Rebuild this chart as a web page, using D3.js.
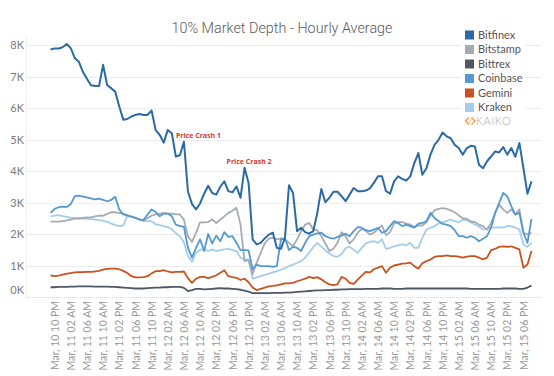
<!DOCTYPE html>
<html>
<head>
<meta charset="utf-8">
<script src="https://cdn.jsdelivr.net/npm/d3@7"></script>
<style>
  body { margin: 0; background: #fff; }
  svg { display: block; font-family: Lato, "Open Sans", sans-serif; }
</style>
</head>
<body>
<div id="chart"></div>
<script>
// dimensions
const w = 554;
const h = 376;

// data (values in thousands, hourly from Mar 10 11 PM to Mar 15 10 PM)
const exchanges = ["Bitfinex", "Bitstamp", "Bittrex", "Coinbase", "Gemini", "Kraken"];
const colors = ["#2c6aa6", "#a5abb5", "#4f5764", "#5499cf", "#c9521e", "#a4ccec"];

const bitfinex = [7.86,7.89,7.89,7.93,8.03,7.90,7.58,7.47,7.15,6.93,
  6.72,6.70,6.70,7.37,6.73,6.63,6.52,6.05,5.63,5.65,
  5.73,5.78,5.81,5.78,5.78,5.92,5.30,5.15,4.90,5.30,
  5.20,4.46,4.50,4.93,3.35,2.95,2.78,2.97,3.28,3.53,
  3.30,3.25,3.50,3.67,3.36,3.32,3.51,3.15,4.10,3.62,
  1.83,1.67,1.72,1.86,1.98,2.04,1.56,1.53,1.88,3.55,
  3.30,2.09,2.20,2.06,2.01,2.09,2.67,3.43,3.01,3.15,
  3.34,3.34,3.20,3.04,3.25,3.46,3.36,3.36,3.38,3.45,
  3.62,3.83,3.83,3.36,3.28,3.67,3.83,3.75,3.70,3.83,
  4.25,4.57,3.88,4.09,4.52,4.83,4.99,5.22,5.10,5.04,
  4.83,4.73,4.52,4.73,4.80,4.78,4.20,4.09,4.31,4.46,
  4.62,4.59,4.76,4.52,4.73,4.45,4.89,4.09,3.28,3.67];

const bitstamp = [2.39,2.39,2.39,2.41,2.43,2.46,2.49,2.49,2.51,2.53,
  2.53,2.56,2.58,2.58,2.64,2.69,2.69,2.67,2.64,2.60,
  2.56,2.51,2.46,2.43,2.51,2.58,2.62,2.65,2.66,2.65,
  2.65,2.62,2.62,2.45,1.93,1.75,2.04,2.37,2.37,2.38,
  2.46,2.35,2.46,2.56,2.67,2.74,2.83,2.30,1.14,1.17,
  0.72,1.09,1.40,1.70,1.85,1.88,1.83,1.86,1.83,1.72,
  1.61,1.83,2.09,2.30,2.35,2.14,2.12,1.93,1.70,1.46,
  1.53,1.72,2.06,1.93,1.70,1.83,2.04,2.16,2.10,1.98,
  2.04,2.16,2.27,1.96,2.06,2.33,2.38,2.38,2.33,2.30,
  2.22,2.27,2.27,2.38,2.59,2.75,2.80,2.82,2.80,2.75,
  2.69,2.59,2.50,2.48,2.40,2.38,2.30,2.25,2.14,2.35,
  2.67,2.93,2.78,2.67,2.78,2.62,2.78,2.04,1.98,2.04];

const bittrex = [0.31,0.31,0.32,0.32,0.32,0.33,0.33,0.34,0.34,0.34,
  0.34,0.33,0.33,0.33,0.33,0.32,0.32,0.31,0.30,0.29,
  0.28,0.27,0.27,0.27,0.28,0.29,0.30,0.30,0.31,0.31,
  0.32,0.32,0.32,0.29,0.19,0.22,0.26,0.26,0.24,0.25,
  0.26,0.27,0.28,0.27,0.27,0.26,0.25,0.23,0.20,0.17,
  0.12,0.12,0.12,0.12,0.12,0.13,0.13,0.13,0.14,0.14,
  0.15,0.16,0.17,0.18,0.19,0.20,0.21,0.21,0.22,0.22,
  0.23,0.23,0.24,0.24,0.25,0.25,0.25,0.25,0.26,0.26,
  0.26,0.26,0.27,0.27,0.27,0.26,0.26,0.26,0.27,0.27,
  0.27,0.27,0.27,0.27,0.27,0.27,0.27,0.27,0.27,0.27,
  0.27,0.27,0.27,0.27,0.26,0.26,0.26,0.26,0.26,0.26,
  0.26,0.26,0.27,0.27,0.27,0.27,0.26,0.26,0.30,0.36];

const coinbase = [2.67,2.80,2.85,2.87,2.86,2.95,3.20,3.22,3.19,3.16,
  3.13,3.10,3.12,3.08,3.04,3.08,3.18,2.78,2.62,2.58,
  2.54,2.51,2.46,2.44,2.62,2.78,2.70,2.56,2.65,2.65,
  2.56,2.30,2.25,2.23,1.56,1.25,1.56,1.83,1.46,2.00,
  1.70,1.95,1.77,2.06,1.91,1.93,1.72,1.49,1.49,1.48,
  0.88,1.03,0.98,0.98,0.98,0.96,0.98,1.83,1.86,1.49,
  1.59,1.56,1.46,1.72,1.93,1.98,2.02,2.04,1.93,1.88,
  1.85,1.91,1.95,2.01,1.93,2.09,2.22,2.20,2.12,2.09,
  2.14,2.20,2.04,2.09,2.25,2.41,2.35,2.25,2.30,2.25,
  2.20,2.33,2.35,2.41,2.67,2.51,2.41,2.32,2.30,2.25,
  2.12,1.93,1.93,1.88,1.93,1.88,1.77,1.85,1.93,2.20,
  2.67,2.99,3.30,3.20,2.88,2.62,2.67,2.04,1.72,2.48];

const gemini = [0.69,0.66,0.68,0.71,0.74,0.76,0.78,0.79,0.79,0.80,
  0.80,0.81,0.83,0.87,0.89,0.90,0.90,0.88,0.83,0.76,
  0.66,0.62,0.62,0.63,0.66,0.75,0.82,0.82,0.85,0.81,
  0.78,0.80,0.80,0.81,0.60,0.45,0.58,0.64,0.64,0.60,
  0.64,0.69,0.77,0.85,0.66,0.63,0.61,0.54,0.58,0.47,
  0.30,0.22,0.26,0.30,0.34,0.35,0.37,0.40,0.43,0.43,
  0.45,0.50,0.54,0.58,0.64,0.60,0.63,0.56,0.47,0.40,
  0.38,0.40,0.64,0.58,0.45,0.42,0.55,0.68,0.80,0.78,
  0.88,0.93,0.98,0.77,0.93,1.00,1.03,1.06,1.07,1.09,
  0.98,0.90,1.07,1.14,1.19,1.27,1.30,1.30,1.32,1.30,
  1.30,1.28,1.25,1.28,1.30,1.30,1.25,1.19,1.25,1.49,
  1.53,1.59,1.61,1.59,1.61,1.56,1.51,0.93,1.03,1.46];

const kraken = [2.56,2.58,2.60,2.57,2.54,2.52,2.51,2.50,2.49,2.48,
  2.47,2.46,2.44,2.42,2.39,2.33,2.28,2.25,2.27,2.58,
  2.56,2.51,2.46,2.42,2.41,2.41,2.31,2.28,2.25,2.22,
  2.15,2.03,1.93,1.74,1.30,1.12,1.40,1.50,1.51,1.46,
  1.51,1.46,1.49,1.51,1.53,1.49,1.46,1.25,1.19,1.19,
  0.58,0.62,0.66,0.70,0.74,0.78,0.82,0.87,0.92,0.98,
  1.03,1.08,1.14,1.25,1.42,1.58,1.72,1.60,1.48,1.38,
  1.30,1.28,1.36,1.55,1.60,1.50,1.40,1.56,1.70,1.75,
  1.77,1.72,1.83,1.53,1.56,1.61,1.64,1.67,1.64,1.72,
  1.56,1.56,1.88,2.14,2.20,2.25,2.33,2.37,2.41,2.46,
  2.41,2.37,2.46,2.43,2.37,2.30,2.23,2.14,2.16,2.20,
  2.20,2.22,2.20,2.25,2.25,2.20,2.14,1.67,1.59,1.72];

const seriesValues = [bitfinex, bitstamp, bittrex, coinbase, gemini, kraken];

const yTicks = [0, 1, 2, 3, 4, 5, 6, 7, 8];
const xTickLabels = ["Mar, 10 10 PM",
  "Mar, 11 02 AM", "Mar, 11 06 AM", "Mar, 11 10 AM", "Mar, 11 02 PM", "Mar, 11 06 PM", "Mar, 11 10 PM",
  "Mar, 12 02 AM", "Mar, 12 06 AM", "Mar, 12 10 AM", "Mar, 12 02 PM", "Mar, 12 06 PM", "Mar, 12 10 PM",
  "Mar, 13 02 AM", "Mar, 13 06 AM", "Mar, 13 10 AM", "Mar, 13 02 PM", "Mar, 13 06 PM", "Mar, 13 10 PM",
  "Mar, 14 02 AM", "Mar, 14 06 AM", "Mar, 14 10 AM", "Mar, 14 02 PM", "Mar, 14 06 PM", "Mar, 14 10 PM",
  "Mar, 15 02 AM", "Mar, 15 06 AM", "Mar, 15 10 AM", "Mar, 15 02 PM", "Mar, 15 06 PM", "Mar, 15 10 PM"];

const annotationTexts = ["Price Crash 1", "Price Crash 2"];
const annotationHours = [33, 48];
const annotationValues = [4.93, 4.10];

// time
const startTime = Date.UTC(2018, 2, 10, 22);
const endTime = Date.UTC(2018, 2, 15, 22);
const hours = d3.utcHour.range(new Date(Date.UTC(2018, 2, 10, 23)), new Date(Date.UTC(2018, 2, 15, 23)));
const tickDates = d3.utcHour.every(4).range(new Date(startTime), new Date(endTime + 1));

// svg
const svg = d3.select("#chart")
    .append("svg")
    .attr("width", w)
    .attr("height", h);

// scales
const xScale = d3.scaleUtc()
    .domain([new Date(startTime), new Date(endTime)])
    .range([46.5, 531.5]);

const yScale = d3.scaleLinear()
    .domain([0, 8])
    .range([297, 45]);

// title
svg.append("text")
    .attr("x", 282)
    .attr("y", 33)
    .attr("text-anchor", "middle")
    .attr("font-family", "Roboto, Lato, sans-serif")
    .attr("font-weight", "300")
    .attr("font-size", "15.5px")
    .attr("textLength", 221)
    .attr("lengthAdjust", "spacingAndGlyphs")
    .attr("fill", "#5a5a5a")
    .text("10% Market Depth - Hourly Average");

// gridlines
svg.append("g")
    .selectAll("line")
    .data(yTicks.filter(d => d > 0))
    .enter()
    .append("line")
    .attr("x1", 26)
    .attr("x2", 541)
    .attr("y1", d => Math.round(yScale(d)) + 0.5)
    .attr("y2", d => Math.round(yScale(d)) + 0.5)
    .attr("stroke", "#ececec");

// left border
svg.append("line")
    .attr("x1", 26.5).attr("x2", 26.5)
    .attr("y1", 36).attr("y2", 297)
    .attr("stroke", "#f0f0f0");

// zero line (dotted)
svg.append("line")
    .attr("x1", 26)
    .attr("x2", 541)
    .attr("y1", 297.5)
    .attr("y2", 297.5)
    .attr("stroke", "#d4d4d4")
    .attr("stroke-dasharray", "1,1");

// axe y
const axeY = d3.axisLeft(yScale)
    .tickValues(yTicks)
    .tickSize(0)
    .tickPadding(0)
    .tickFormat(d => d + "K");

svg.append("g")
    .attr("class", "y axis")
    .attr("transform", "translate(24,0)")
    .call(axeY)
    .call(g => g.select(".domain").remove())
    .call(g => g.selectAll("text")
        .attr("font-family", "Lato, sans-serif")
        .attr("font-size", "11px")
        .attr("fill", "#7a7a7a")
        .attr("dy", d => d === 0 ? "-0.3em" : "0.32em"));

// axe x
const axeX = d3.axisBottom(xScale)
    .tickValues(tickDates)
    .tickSize(0)
    .tickFormat((d, i) => xTickLabels[i]);

svg.append("g")
    .attr("class", "x axis")
    .attr("transform", "translate(0,301)")
    .call(axeX)
    .call(g => g.select(".domain").remove())
    .call(g => g.selectAll("text")
        .attr("font-family", "Lato, sans-serif")
        .attr("font-size", "10.5px")
        .attr("fill", "#999")
        .attr("text-anchor", "end")
        .attr("transform", "rotate(-90)")
        .attr("x", 0)
        .attr("y", 0)
        .attr("dy", "0.35em"));

// lines
const line = d3.line()
    .x((d, i) => xScale(hours[i]))
    .y(d => yScale(d));

const drawOrder = [5, 4, 2, 1, 3, 0];
svg.append("g")
    .selectAll("path")
    .data(drawOrder)
    .enter()
    .append("path")
    .attr("d", k => line(seriesValues[k]))
    .attr("fill", "none")
    .attr("stroke", k => colors[k])
    .attr("stroke-width", k => k === 0 ? 2 : 1.8)
    .attr("stroke-linejoin", "round");

// annotations (text placed just left of the peak)
const annoShift = [-8, -18];
svg.append("g")
    .selectAll("text")
    .data(annotationTexts)
    .enter()
    .append("text")
    .attr("x", (d, i) => xScale(hours[annotationHours[i]]) + annoShift[i])
    .attr("y", (d, i) => yScale(annotationValues[i]) - 4)
    .attr("font-family", "'Open Sans', sans-serif")
    .attr("font-weight", "bold")
    .attr("font-size", "7px")
    .attr("fill", "#d8392c")
    .text(d => d);

// legend
const legend = svg.append("g");
legend.append("rect")
    .attr("x", 461)
    .attr("y", 27)
    .attr("width", 64)
    .attr("height", 102)
    .attr("fill", "#fff");

const rows = legend.selectAll("g.row")
    .data(exchanges)
    .enter()
    .append("g")
    .attr("class", "row")
    .attr("transform", (d, i) => "translate(465," + (35 + i * 14.5) + ")");

rows.append("rect")
    .attr("x", 0)
    .attr("y", -4.5)
    .attr("width", 9)
    .attr("height", 9)
    .attr("fill", (d, i) => colors[i]);

rows.append("text")
    .attr("x", 13)
    .attr("dy", "0.36em")
    .attr("font-size", "11px")
    .attr("fill", "#555")
    .text(d => d);

// kaiko logo
const logo = legend.append("g").attr("transform", "translate(465,121)");
logo.append("path")
    .attr("d", "M4,-3.5 L0.5,0 L4,3.5 M6.5,-3.5 L10,0 L6.5,3.5")
    .attr("fill", "none")
    .attr("stroke", "#efa23c")
    .attr("stroke-width", 1.4);
logo.append("path")
    .attr("d", "M3.5,3.5 L7,-3.5")
    .attr("fill", "none")
    .attr("stroke", "#f6c27a")
    .attr("stroke-width", 1);
logo.append("text")
    .attr("x", 11)
    .attr("dy", "0.36em")
    .attr("font-size", "11px")
    .attr("font-weight", "300")
    .attr("letter-spacing", "0.6px")
    .attr("fill", "#a9a9a9")
    .text("KAIKO");
</script>
</body>
</html>
